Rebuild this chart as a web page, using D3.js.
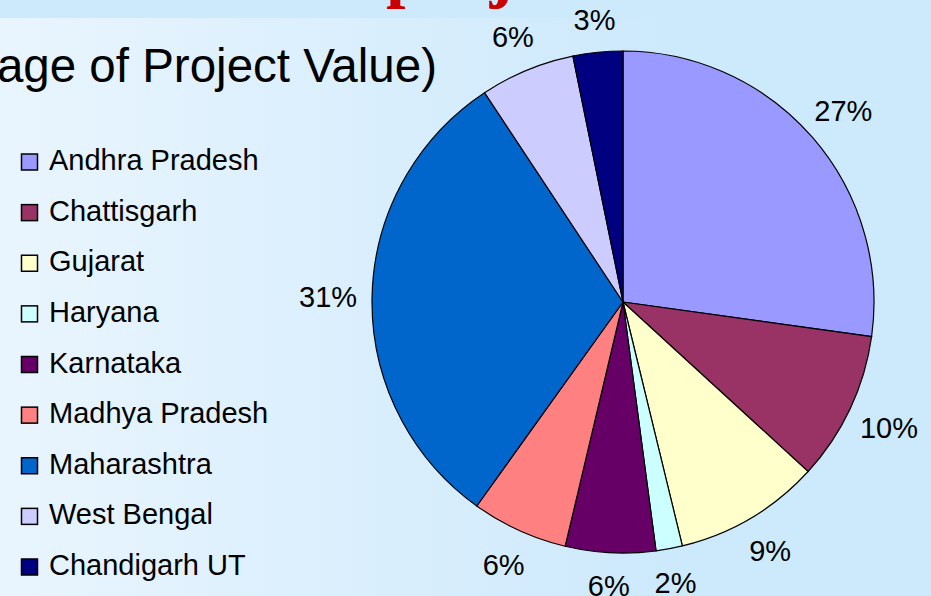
<!DOCTYPE html>
<html>
<head>
<meta charset="utf-8">
<script src="https://cdn.jsdelivr.net/npm/d3@7"></script>
<style>
  html, body { margin: 0; padding: 0; }
  svg { display: block; }
</style>
</head>
<body>
<svg id="chart"></svg>
<script>
// data
var states = ["Andhra Pradesh", "Chattisgarh", "Gujarat", "Haryana", "Karnataka",
              "Madhya Pradesh", "Maharashtra", "West Bengal", "Chandigarh UT"]
var shares = [27.2, 9.6, 9.4, 1.7, 5.8, 6.2, 30.8, 6.1, 3.2]
var pctLabels = ["27%", "10%", "9%", "2%", "6%", "6%", "31%", "6%", "3%"]
var colors = ["#9999ff", "#993366", "#ffffcc", "#ccffff", "#660066",
              "#ff8080", "#0066cc", "#ccccff", "#000080"]

var width = 931, height = 596
var svg = d3.select("#chart").attr("width", width).attr("height", height)

// background
var defs = svg.append("defs")
var grad = defs.append("linearGradient").attr("id", "bg").attr("x1", 0).attr("x2", 1).attr("y1", 0).attr("y2", 0)
grad.append("stop").attr("offset", "0%").attr("stop-color", "#e9f5fe")
grad.append("stop").attr("offset", "72%").attr("stop-color", "#cde9fc")
grad.append("stop").attr("offset", "100%").attr("stop-color", "#cde9fc")

svg.append("rect").attr("width", width).attr("height", height).attr("fill", "#cdeafc")
svg.append("rect").attr("y", 18).attr("width", width).attr("height", height - 18).attr("fill", "url(#bg)")

// cut-off slide title (only the descenders show)
var title = svg.append("text")
   .attr("y", -6)
   .attr("font-family", "Liberation Serif, Times New Roman, serif")
   .attr("font-weight", "bold")
   .attr("font-size", 70)
   .attr("fill", "#cc0000")
var pre = title.append("tspan").text("Statewise distribution of ")
title.append("tspan").text("projects")
var preLen = pre.node().getComputedTextLength()
title.attr("x", 386 - preLen)

// subtitle
svg.append("text")
   .attr("x", 437)
   .attr("y", 82)
   .attr("text-anchor", "end")
   .attr("font-family", "Liberation Sans, Arial, sans-serif")
   .attr("font-size", 47.5)
   .attr("fill", "#000")
   .text("(Percentage of Project Value)")

// pie
var cx = 623, cy = 302, radius = 251

var pie = d3.pie().sort(null).value(d => d)
var arcs = pie(shares)

var arcGen = d3.arc().innerRadius(0).outerRadius(radius)

function labelPos(d) {
    var a = (d.startAngle + d.endAngle) / 2
    var r = 283 + 12 * Math.abs(Math.sin(a))
    return [r * Math.sin(a), -r * Math.cos(a)]
}

var g = svg.append("g").attr("transform", `translate(${cx},${cy})`)

g.selectAll("path")
 .data(arcs)
 .join("path")
 .attr("d", arcGen)
 .attr("fill", (d, i) => colors[i])
 .attr("stroke", "#000")
 .attr("stroke-width", 1.2)

g.selectAll(".lbl")
 .data(arcs)
 .join("text")
 .attr("class", "lbl")
 .attr("transform", d => `translate(${labelPos(d)})`)
 .attr("text-anchor", "middle")
 .attr("dy", "0.36em")
 .attr("font-family", "Liberation Sans, Arial, sans-serif")
 .attr("font-size", 29)
 .attr("fill", "#000")
 .text((d, i) => pctLabels[i])

// legend
var legend = svg.append("g")
var rowY = d3.scalePoint().domain(states).range([162, 567])

var item = legend.selectAll("g")
   .data(states)
   .join("g")
   .attr("transform", d => `translate(0,${rowY(d)})`)

item.append("rect")
    .attr("x", 21.5)
    .attr("y", -8)
    .attr("width", 16)
    .attr("height", 16)
    .attr("fill", (d, i) => colors[i])
    .attr("stroke", "#000")
    .attr("stroke-width", 1.5)

item.append("text")
    .attr("x", 49)
    .attr("y", 8)
    .attr("font-family", "Liberation Sans, Arial, sans-serif")
    .attr("font-size", 29)
    .attr("fill", "#000")
    .text(d => d)
</script>
</body>
</html>
